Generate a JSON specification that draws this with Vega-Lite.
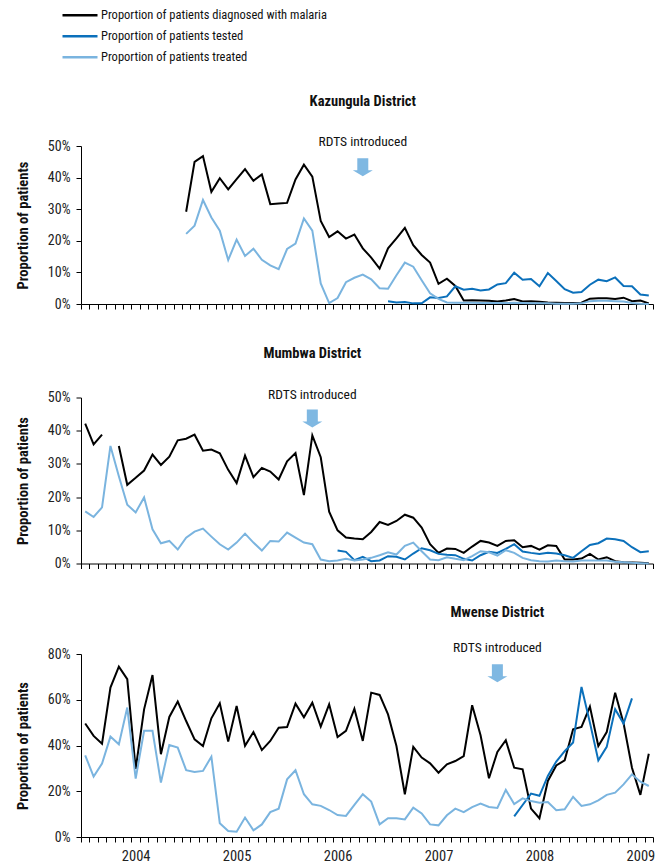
{
  "$schema": "https://vega.github.io/schema/vega-lite/v6.json",
  "background": "white",
  "padding": {"left": 15, "top": 5, "right": 5, "bottom": 0},
  "config": {
    "font": "Roboto Condensed, Noto Sans Condensed, DejaVu Sans Condensed, Roboto",
    "view": {"stroke": null},
    "axis": {"domainColor": "#000", "tickColor": "#000", "labelColor": "#222", "labelFontSize": 14, "grid": false, "titleFontSize": 14.5, "titleFontWeight": "bold", "titleColor": "#111", "tickSize": 5},
    "concat": {"spacing": 34.5}
  },
  "datasets": {
    "rates": [
      {"district": "Kazungula", "month": "2003-07"}, {"district": "Kazungula", "month": "2003-08"}, {"district": "Kazungula", "month": "2003-09"}, {"district": "Kazungula", "month": "2003-10"}, {"district": "Kazungula", "month": "2003-11"}, {"district": "Kazungula", "month": "2003-12"},
      {"district": "Kazungula", "month": "2004-01"}, {"district": "Kazungula", "month": "2004-02"}, {"district": "Kazungula", "month": "2004-03"}, {"district": "Kazungula", "month": "2004-04"}, {"district": "Kazungula", "month": "2004-05"}, {"district": "Kazungula", "month": "2004-06"},
      {"district": "Kazungula", "month": "2004-07", "diagnosed": 29.2, "treated": 22.2},
      {"district": "Kazungula", "month": "2004-08", "diagnosed": 45.0, "treated": 24.8},
      {"district": "Kazungula", "month": "2004-09", "diagnosed": 46.8, "treated": 32.9},
      {"district": "Kazungula", "month": "2004-10", "diagnosed": 35.5, "treated": 27.4},
      {"district": "Kazungula", "month": "2004-11", "diagnosed": 39.8, "treated": 23.2},
      {"district": "Kazungula", "month": "2004-12", "diagnosed": 36.3, "treated": 13.9},
      {"district": "Kazungula", "month": "2005-01", "diagnosed": 39.5, "treated": 20.4},
      {"district": "Kazungula", "month": "2005-02", "diagnosed": 42.7, "treated": 15.2},
      {"district": "Kazungula", "month": "2005-03", "diagnosed": 39.0, "treated": 17.5},
      {"district": "Kazungula", "month": "2005-04", "diagnosed": 41.0, "treated": 14.0},
      {"district": "Kazungula", "month": "2005-05", "diagnosed": 31.6, "treated": 12.2},
      {"district": "Kazungula", "month": "2005-06", "diagnosed": 31.8, "treated": 11.0},
      {"district": "Kazungula", "month": "2005-07", "diagnosed": 32.0, "treated": 17.4},
      {"district": "Kazungula", "month": "2005-08", "diagnosed": 39.4, "treated": 19.1},
      {"district": "Kazungula", "month": "2005-09", "diagnosed": 44.1, "treated": 27.1},
      {"district": "Kazungula", "month": "2005-10", "diagnosed": 40.3, "treated": 23.2},
      {"district": "Kazungula", "month": "2005-11", "diagnosed": 26.3, "treated": 6.5},
      {"district": "Kazungula", "month": "2005-12", "diagnosed": 21.2, "treated": 0.3},
      {"district": "Kazungula", "month": "2006-01", "diagnosed": 23.0, "treated": 1.9},
      {"district": "Kazungula", "month": "2006-02", "diagnosed": 20.7, "treated": 6.9},
      {"district": "Kazungula", "month": "2006-03", "diagnosed": 22.0, "treated": 8.3},
      {"district": "Kazungula", "month": "2006-04", "diagnosed": 17.6, "treated": 9.3},
      {"district": "Kazungula", "month": "2006-05", "diagnosed": 14.7, "treated": 7.8},
      {"district": "Kazungula", "month": "2006-06", "diagnosed": 11.2, "treated": 5.0},
      {"district": "Kazungula", "month": "2006-07", "diagnosed": 17.6, "tested": 0.9, "treated": 4.8},
      {"district": "Kazungula", "month": "2006-08", "diagnosed": 20.8, "tested": 0.5, "treated": 9.1},
      {"district": "Kazungula", "month": "2006-09", "diagnosed": 24.1, "tested": 0.6, "treated": 13.1},
      {"district": "Kazungula", "month": "2006-10", "diagnosed": 18.6, "tested": 0.2, "treated": 11.8},
      {"district": "Kazungula", "month": "2006-11", "diagnosed": 15.5, "tested": 0.2, "treated": 7.5},
      {"district": "Kazungula", "month": "2006-12", "diagnosed": 13.1, "tested": 2.1, "treated": 3.4},
      {"district": "Kazungula", "month": "2007-01", "diagnosed": 6.4, "tested": 1.9, "treated": 1.6},
      {"district": "Kazungula", "month": "2007-02", "diagnosed": 8.0, "tested": 2.4, "treated": 0.5},
      {"district": "Kazungula", "month": "2007-03", "diagnosed": 5.7, "tested": 5.6, "treated": 0.4},
      {"district": "Kazungula", "month": "2007-04", "diagnosed": 1.1, "tested": 4.5, "treated": 0.4},
      {"district": "Kazungula", "month": "2007-05", "diagnosed": 1.2, "tested": 4.8, "treated": 0.4},
      {"district": "Kazungula", "month": "2007-06", "diagnosed": 1.1, "tested": 4.3, "treated": 0.3},
      {"district": "Kazungula", "month": "2007-07", "diagnosed": 1.0, "tested": 4.6, "treated": 0.3},
      {"district": "Kazungula", "month": "2007-08", "diagnosed": 0.8, "tested": 6.2, "treated": 0.3},
      {"district": "Kazungula", "month": "2007-09", "diagnosed": 1.1, "tested": 6.6, "treated": 0.3},
      {"district": "Kazungula", "month": "2007-10", "diagnosed": 1.6, "tested": 9.9, "treated": 0.4},
      {"district": "Kazungula", "month": "2007-11", "diagnosed": 0.8, "tested": 7.7, "treated": 0.3},
      {"district": "Kazungula", "month": "2007-12", "diagnosed": 0.9, "tested": 7.9, "treated": 0.2},
      {"district": "Kazungula", "month": "2008-01", "diagnosed": 0.7, "tested": 5.6, "treated": 0.2},
      {"district": "Kazungula", "month": "2008-02", "diagnosed": 0.5, "tested": 9.8, "treated": 0.2},
      {"district": "Kazungula", "month": "2008-03", "diagnosed": 0.4, "tested": 7.3, "treated": 0.1},
      {"district": "Kazungula", "month": "2008-04", "diagnosed": 0.3, "tested": 4.7, "treated": 0.1},
      {"district": "Kazungula", "month": "2008-05", "diagnosed": 0.3, "tested": 3.6, "treated": 0.1},
      {"district": "Kazungula", "month": "2008-06", "diagnosed": 0.4, "tested": 3.8, "treated": 0.2},
      {"district": "Kazungula", "month": "2008-07", "diagnosed": 1.7, "tested": 6.1, "treated": 0.9},
      {"district": "Kazungula", "month": "2008-08", "diagnosed": 1.8, "tested": 7.7, "treated": 1.0},
      {"district": "Kazungula", "month": "2008-09", "diagnosed": 1.8, "tested": 7.2, "treated": 1.0},
      {"district": "Kazungula", "month": "2008-10", "diagnosed": 1.6, "tested": 8.4, "treated": 0.9},
      {"district": "Kazungula", "month": "2008-11", "diagnosed": 2.0, "tested": 5.7, "treated": 0.8},
      {"district": "Kazungula", "month": "2008-12", "diagnosed": 0.9, "tested": 5.6, "treated": 0.3},
      {"district": "Kazungula", "month": "2009-01", "diagnosed": 1.1, "tested": 3.0, "treated": 0.1},
      {"district": "Kazungula", "month": "2009-02", "diagnosed": 0.2, "tested": 2.7, "treated": 0.0},

      {"district": "Mumbwa", "month": "2003-07", "diagnosed": 42.1, "treated": 15.7},
      {"district": "Mumbwa", "month": "2003-08", "diagnosed": 35.9, "treated": 14.0},
      {"district": "Mumbwa", "month": "2003-09", "diagnosed": 38.8, "treated": 16.9},
      {"district": "Mumbwa", "month": "2003-10", "treated": 35.4},
      {"district": "Mumbwa", "month": "2003-11", "diagnosed": 35.4, "treated": 26.3},
      {"district": "Mumbwa", "month": "2003-12", "diagnosed": 23.7, "treated": 17.7},
      {"district": "Mumbwa", "month": "2004-01", "diagnosed": 25.8, "treated": 15.4},
      {"district": "Mumbwa", "month": "2004-02", "diagnosed": 28.0, "treated": 19.9},
      {"district": "Mumbwa", "month": "2004-03", "diagnosed": 32.8, "treated": 10.3},
      {"district": "Mumbwa", "month": "2004-04", "diagnosed": 29.7, "treated": 6.1},
      {"district": "Mumbwa", "month": "2004-05", "diagnosed": 32.2, "treated": 6.8},
      {"district": "Mumbwa", "month": "2004-06", "diagnosed": 37.1, "treated": 4.2},
      {"district": "Mumbwa", "month": "2004-07", "diagnosed": 37.6, "treated": 7.8},
      {"district": "Mumbwa", "month": "2004-08", "diagnosed": 38.8, "treated": 9.6},
      {"district": "Mumbwa", "month": "2004-09", "diagnosed": 34.0, "treated": 10.5},
      {"district": "Mumbwa", "month": "2004-10", "diagnosed": 34.3, "treated": 8.1},
      {"district": "Mumbwa", "month": "2004-11", "diagnosed": 33.2, "treated": 5.8},
      {"district": "Mumbwa", "month": "2004-12", "diagnosed": 28.2, "treated": 4.2},
      {"district": "Mumbwa", "month": "2005-01", "diagnosed": 24.2, "treated": 6.3},
      {"district": "Mumbwa", "month": "2005-02", "diagnosed": 32.5, "treated": 9.0},
      {"district": "Mumbwa", "month": "2005-03", "diagnosed": 26.0, "treated": 6.3},
      {"district": "Mumbwa", "month": "2005-04", "diagnosed": 28.8, "treated": 3.9},
      {"district": "Mumbwa", "month": "2005-05", "diagnosed": 27.7, "treated": 6.8},
      {"district": "Mumbwa", "month": "2005-06", "diagnosed": 25.3, "treated": 6.6},
      {"district": "Mumbwa", "month": "2005-07", "diagnosed": 30.8, "treated": 9.3},
      {"district": "Mumbwa", "month": "2005-08", "diagnosed": 33.3, "treated": 7.8},
      {"district": "Mumbwa", "month": "2005-09", "diagnosed": 20.6, "treated": 6.3},
      {"district": "Mumbwa", "month": "2005-10", "diagnosed": 38.6, "treated": 5.8},
      {"district": "Mumbwa", "month": "2005-11", "diagnosed": 32.0, "treated": 1.2},
      {"district": "Mumbwa", "month": "2005-12", "diagnosed": 15.6, "treated": 0.7},
      {"district": "Mumbwa", "month": "2006-01", "diagnosed": 10.0, "tested": 3.9, "treated": 0.9},
      {"district": "Mumbwa", "month": "2006-02", "diagnosed": 7.8, "tested": 3.5, "treated": 1.4},
      {"district": "Mumbwa", "month": "2006-03", "diagnosed": 7.5, "tested": 1.0, "treated": 0.9},
      {"district": "Mumbwa", "month": "2006-04", "diagnosed": 7.3, "tested": 2.0, "treated": 1.2},
      {"district": "Mumbwa", "month": "2006-05", "diagnosed": 9.5, "tested": 0.7, "treated": 1.7},
      {"district": "Mumbwa", "month": "2006-06", "diagnosed": 12.5, "tested": 0.9, "treated": 2.5},
      {"district": "Mumbwa", "month": "2006-07", "diagnosed": 11.6, "tested": 2.2, "treated": 3.4},
      {"district": "Mumbwa", "month": "2006-08", "diagnosed": 12.8, "tested": 2.0, "treated": 2.7},
      {"district": "Mumbwa", "month": "2006-09", "diagnosed": 14.7, "tested": 1.2, "treated": 5.3},
      {"district": "Mumbwa", "month": "2006-10", "diagnosed": 13.8, "tested": 3.0, "treated": 6.3},
      {"district": "Mumbwa", "month": "2006-11", "diagnosed": 10.8, "tested": 4.6, "treated": 3.7},
      {"district": "Mumbwa", "month": "2006-12", "diagnosed": 5.8, "tested": 4.0, "treated": 1.2},
      {"district": "Mumbwa", "month": "2007-01", "diagnosed": 3.2, "tested": 2.9, "treated": 1.0},
      {"district": "Mumbwa", "month": "2007-02", "diagnosed": 4.5, "tested": 2.6, "treated": 1.9},
      {"district": "Mumbwa", "month": "2007-03", "diagnosed": 4.4, "tested": 2.5, "treated": 1.4},
      {"district": "Mumbwa", "month": "2007-04", "diagnosed": 3.2, "tested": 1.4, "treated": 1.0},
      {"district": "Mumbwa", "month": "2007-05", "diagnosed": 5.1, "tested": 0.9, "treated": 2.2},
      {"district": "Mumbwa", "month": "2007-06", "diagnosed": 6.8, "tested": 2.5, "treated": 3.7},
      {"district": "Mumbwa", "month": "2007-07", "diagnosed": 6.3, "tested": 3.5, "treated": 3.4},
      {"district": "Mumbwa", "month": "2007-08", "diagnosed": 5.3, "tested": 3.2, "treated": 2.4},
      {"district": "Mumbwa", "month": "2007-09", "diagnosed": 6.8, "tested": 4.4, "treated": 4.0},
      {"district": "Mumbwa", "month": "2007-10", "diagnosed": 7.0, "tested": 5.8, "treated": 3.2},
      {"district": "Mumbwa", "month": "2007-11", "diagnosed": 4.9, "tested": 3.6, "treated": 1.7},
      {"district": "Mumbwa", "month": "2007-12", "diagnosed": 5.3, "tested": 3.2, "treated": 1.0},
      {"district": "Mumbwa", "month": "2008-01", "diagnosed": 4.2, "tested": 2.9, "treated": 0.7},
      {"district": "Mumbwa", "month": "2008-02", "diagnosed": 5.5, "tested": 3.2, "treated": 0.6},
      {"district": "Mumbwa", "month": "2008-03", "diagnosed": 5.3, "tested": 3.0, "treated": 0.9},
      {"district": "Mumbwa", "month": "2008-04", "diagnosed": 1.2, "tested": 2.5, "treated": 0.7},
      {"district": "Mumbwa", "month": "2008-05", "diagnosed": 1.2, "tested": 1.7, "treated": 0.6},
      {"district": "Mumbwa", "month": "2008-06", "diagnosed": 1.5, "tested": 3.7, "treated": 0.9},
      {"district": "Mumbwa", "month": "2008-07", "diagnosed": 2.9, "tested": 5.6, "treated": 0.9},
      {"district": "Mumbwa", "month": "2008-08", "diagnosed": 1.2, "tested": 6.1, "treated": 0.9},
      {"district": "Mumbwa", "month": "2008-09", "diagnosed": 1.9, "tested": 7.5, "treated": 0.9},
      {"district": "Mumbwa", "month": "2008-10", "diagnosed": 0.7, "tested": 7.3, "treated": 0.5},
      {"district": "Mumbwa", "month": "2008-11", "diagnosed": 0.4, "tested": 6.8, "treated": 0.4},
      {"district": "Mumbwa", "month": "2008-12", "diagnosed": 0.3, "tested": 4.9, "treated": 0.2},
      {"district": "Mumbwa", "month": "2009-01", "diagnosed": 0.2, "tested": 3.4, "treated": 0.1},
      {"district": "Mumbwa", "month": "2009-02", "diagnosed": 0.1, "tested": 3.7, "treated": 0.0},

      {"district": "Mwense", "month": "2003-07", "diagnosed": 49.6, "treated": 35.7},
      {"district": "Mwense", "month": "2003-08", "diagnosed": 44.2, "treated": 26.4},
      {"district": "Mwense", "month": "2003-09", "diagnosed": 40.8, "treated": 32.1},
      {"district": "Mwense", "month": "2003-10", "diagnosed": 65.3, "treated": 43.9},
      {"district": "Mwense", "month": "2003-11", "diagnosed": 74.5, "treated": 40.5},
      {"district": "Mwense", "month": "2003-12", "diagnosed": 69.0, "treated": 56.6},
      {"district": "Mwense", "month": "2004-01", "diagnosed": 29.8, "treated": 25.5},
      {"district": "Mwense", "month": "2004-02", "diagnosed": 55.8, "treated": 46.4},
      {"district": "Mwense", "month": "2004-03", "diagnosed": 70.8, "treated": 46.4},
      {"district": "Mwense", "month": "2004-04", "diagnosed": 36.2, "treated": 23.8},
      {"district": "Mwense", "month": "2004-05", "diagnosed": 52.5, "treated": 40.2},
      {"district": "Mwense", "month": "2004-06", "diagnosed": 59.2, "treated": 39.1},
      {"district": "Mwense", "month": "2004-07", "diagnosed": 50.7, "treated": 29.2},
      {"district": "Mwense", "month": "2004-08", "diagnosed": 42.7, "treated": 28.4},
      {"district": "Mwense", "month": "2004-09", "diagnosed": 39.8, "treated": 28.9},
      {"district": "Mwense", "month": "2004-10", "diagnosed": 51.9, "treated": 35.1},
      {"district": "Mwense", "month": "2004-11", "diagnosed": 58.5, "treated": 6.0},
      {"district": "Mwense", "month": "2004-12", "diagnosed": 41.7, "treated": 2.6},
      {"district": "Mwense", "month": "2005-01", "diagnosed": 57.3, "treated": 2.3},
      {"district": "Mwense", "month": "2005-02", "diagnosed": 39.9, "treated": 8.5},
      {"district": "Mwense", "month": "2005-03", "diagnosed": 45.9, "treated": 2.9},
      {"district": "Mwense", "month": "2005-04", "diagnosed": 38.0, "treated": 5.5},
      {"district": "Mwense", "month": "2005-05", "diagnosed": 42.0, "treated": 10.9},
      {"district": "Mwense", "month": "2005-06", "diagnosed": 47.8, "treated": 12.4},
      {"district": "Mwense", "month": "2005-07", "diagnosed": 48.1, "treated": 25.2},
      {"district": "Mwense", "month": "2005-08", "diagnosed": 58.3, "treated": 29.2},
      {"district": "Mwense", "month": "2005-09", "diagnosed": 52.3, "treated": 18.7},
      {"district": "Mwense", "month": "2005-10", "diagnosed": 58.7, "treated": 14.3},
      {"district": "Mwense", "month": "2005-11", "diagnosed": 48.3, "treated": 13.6},
      {"district": "Mwense", "month": "2005-12", "diagnosed": 58.0, "treated": 11.8},
      {"district": "Mwense", "month": "2006-01", "diagnosed": 43.7, "treated": 9.6},
      {"district": "Mwense", "month": "2006-02", "diagnosed": 46.4, "treated": 9.2},
      {"district": "Mwense", "month": "2006-03", "diagnosed": 56.1, "treated": 14.0},
      {"district": "Mwense", "month": "2006-04", "diagnosed": 42.0, "treated": 18.7},
      {"district": "Mwense", "month": "2006-05", "diagnosed": 63.1, "treated": 15.5},
      {"district": "Mwense", "month": "2006-06", "diagnosed": 62.1, "treated": 5.5},
      {"district": "Mwense", "month": "2006-07", "diagnosed": 53.6, "treated": 8.2},
      {"district": "Mwense", "month": "2006-08", "diagnosed": 39.8, "treated": 8.2},
      {"district": "Mwense", "month": "2006-09", "diagnosed": 18.7, "treated": 7.7},
      {"district": "Mwense", "month": "2006-10", "diagnosed": 39.4, "treated": 12.8},
      {"district": "Mwense", "month": "2006-11", "diagnosed": 34.7, "treated": 10.3},
      {"district": "Mwense", "month": "2006-12", "diagnosed": 32.2, "treated": 5.5},
      {"district": "Mwense", "month": "2007-01", "diagnosed": 28.1, "treated": 5.1},
      {"district": "Mwense", "month": "2007-02", "diagnosed": 31.8, "treated": 9.5},
      {"district": "Mwense", "month": "2007-03", "diagnosed": 33.2, "treated": 12.4},
      {"district": "Mwense", "month": "2007-04", "diagnosed": 35.4, "treated": 10.9},
      {"district": "Mwense", "month": "2007-05", "diagnosed": 57.6, "treated": 13.1},
      {"district": "Mwense", "month": "2007-06", "diagnosed": 44.5, "treated": 14.6},
      {"district": "Mwense", "month": "2007-07", "diagnosed": 25.7, "treated": 13.1},
      {"district": "Mwense", "month": "2007-08", "diagnosed": 37.2, "treated": 12.7},
      {"district": "Mwense", "month": "2007-09", "diagnosed": 42.3, "treated": 20.6},
      {"district": "Mwense", "month": "2007-10", "diagnosed": 30.3, "tested": 9.0, "treated": 14.4},
      {"district": "Mwense", "month": "2007-11", "diagnosed": 29.6, "tested": 14.0, "treated": 16.9},
      {"district": "Mwense", "month": "2007-12", "diagnosed": 12.4, "tested": 19.0, "treated": 15.7},
      {"district": "Mwense", "month": "2008-01", "diagnosed": 8.2, "tested": 18.0, "treated": 15.0},
      {"district": "Mwense", "month": "2008-02", "diagnosed": 24.5, "tested": 26.7, "treated": 15.3},
      {"district": "Mwense", "month": "2008-03", "diagnosed": 31.3, "tested": 33.0, "treated": 11.7},
      {"district": "Mwense", "month": "2008-04", "diagnosed": 33.5, "tested": 37.5, "treated": 12.1},
      {"district": "Mwense", "month": "2008-05", "diagnosed": 47.1, "tested": 41.3, "treated": 17.6},
      {"district": "Mwense", "month": "2008-06", "diagnosed": 48.1, "tested": 65.6, "treated": 13.6},
      {"district": "Mwense", "month": "2008-07", "diagnosed": 57.0, "tested": 50.0, "treated": 14.3},
      {"district": "Mwense", "month": "2008-08", "diagnosed": 39.8, "tested": 33.5, "treated": 16.0},
      {"district": "Mwense", "month": "2008-09", "diagnosed": 45.9, "tested": 39.4, "treated": 18.4},
      {"district": "Mwense", "month": "2008-10", "diagnosed": 63.1, "tested": 55.9, "treated": 19.4},
      {"district": "Mwense", "month": "2008-11", "diagnosed": 49.7, "tested": 49.6, "treated": 23.0},
      {"district": "Mwense", "month": "2008-12", "diagnosed": 30.3, "tested": 60.6, "treated": 27.4},
      {"district": "Mwense", "month": "2009-01", "diagnosed": 18.4, "treated": 24.2},
      {"district": "Mwense", "month": "2009-02", "diagnosed": 36.4, "treated": 22.3}
    ]
  },
  "vconcat": [
    {
      "width": 572, "height": 158,
      "layer": [
        {
          "data": {"name": "rates"},
          "transform": [{"filter": "datum.district == 'Kazungula'"}, {"fold": ["diagnosed", "tested", "treated"], "as": ["series", "value"]}],
          "mark": {"type": "line", "strokeWidth": 2, "invalid": "break-paths-show-domains"},
          "encoding": {
            "x": {"field": "month", "type": "ordinal", "scale": {"type": "band", "paddingInner": 0, "paddingOuter": 0}, "axis": {"title": null, "labels": false, "tickBand": "extent"}},
            "y": {"field": "value", "type": "quantitative", "scale": {"domain": [0, 50], "nice": false}, "axis": {"title": "Proportion of patients", "values": [0, 10, 20, 30, 40, 50], "tickCount": 12, "labelOverlap": false, "labelExpr": "datum.value + '%'", "labelPadding": 6, "titlePadding": 17}},
            "color": {"field": "series", "type": "nominal", "scale": {"domain": ["diagnosed", "tested", "treated"], "range": ["#000000", "#0b70bb", "#7ab4df"]},
              "legend": {"title": null, "orient": "none", "legendX": -20, "legendY": -141, "symbolType": "stroke", "symbolSize": 1225, "symbolStrokeWidth": 2.5, "labelOffset": 2, "rowPadding": 0, "clipHeight": 20.5, "labelFontSize": 12.5, "labelColor": "#111", "labelLimit": 500,
                "labelExpr": "datum.label == 'diagnosed' ? 'Proportion of patients diagnosed with malaria' : datum.label == 'tested' ? 'Proportion of patients tested' : 'Proportion of patients treated'"}}
          }
        },
        {
          "data": {"values": [{"month": "2006-04"}]},
          "mark": {"type": "point", "shape": "M-0.55,-0.9 L0.55,-0.9 L0.55,0.3 L1,0.3 L0,0.9 L-1,0.3 L-0.55,0.3 Z", "size": 400, "filled": true, "color": "#7fb8e2", "opacity": 1},
          "encoding": {"x": {"field": "month", "type": "ordinal"}, "y": {"datum": 43.3}}
        },
        {
          "data": {"values": [{"month": "2006-04", "label": "RDTS introduced"}]},
          "mark": {"type": "text", "fontSize": 13.5, "color": "#111", "baseline": "middle"},
          "encoding": {"x": {"field": "month", "type": "ordinal"}, "y": {"datum": 51.3}, "text": {"field": "label"}}
        },
        {
          "data": {"values": [{"month": "2006-04", "label": "Kazungula District"}]},
          "mark": {"type": "text", "fontSize": 14.5, "fontWeight": "bold", "color": "#111", "baseline": "middle"},
          "encoding": {"x": {"field": "month", "type": "ordinal"}, "y": {"datum": 64}, "text": {"field": "label"}}
        }
      ]
    },
    {
      "width": 572, "height": 166,
      "layer": [
        {
          "data": {"name": "rates"},
          "transform": [{"filter": "datum.district == 'Mumbwa'"}, {"fold": ["diagnosed", "tested", "treated"], "as": ["series", "value"]}],
          "mark": {"type": "line", "strokeWidth": 2, "invalid": "break-paths-show-domains"},
          "encoding": {
            "x": {"field": "month", "type": "ordinal", "scale": {"type": "band", "paddingInner": 0, "paddingOuter": 0}, "axis": {"title": null, "labels": false, "tickBand": "extent"}},
            "y": {"field": "value", "type": "quantitative", "scale": {"domain": [0, 50], "nice": false}, "axis": {"title": "Proportion of patients", "values": [0, 10, 20, 30, 40, 50], "tickCount": 12, "labelOverlap": false, "labelExpr": "datum.value + '%'", "labelPadding": 6, "titlePadding": 17}},
            "color": {"field": "series", "type": "nominal"}
          }
        },
        {
          "data": {"values": [{"month": "2005-10"}]},
          "mark": {"type": "point", "shape": "M-0.55,-0.9 L0.55,-0.9 L0.55,0.3 L1,0.3 L0,0.9 L-1,0.3 L-0.55,0.3 Z", "size": 400, "filled": true, "color": "#7fb8e2", "opacity": 1},
          "encoding": {"x": {"field": "month", "type": "ordinal"}, "y": {"datum": 43.7}}
        },
        {
          "data": {"values": [{"month": "2005-10", "label": "RDTS introduced"}]},
          "mark": {"type": "text", "fontSize": 13.5, "color": "#111", "baseline": "middle"},
          "encoding": {"x": {"field": "month", "type": "ordinal"}, "y": {"datum": 50.9}, "text": {"field": "label"}}
        },
        {
          "data": {"values": [{"month": "2005-10", "label": "Mumbwa District"}]},
          "mark": {"type": "text", "fontSize": 14.5, "fontWeight": "bold", "color": "#111", "baseline": "middle"},
          "encoding": {"x": {"field": "month", "type": "ordinal"}, "y": {"datum": 63.0}, "text": {"field": "label"}}
        }
      ]
    },
    {
      "width": 572, "height": 183,
      "layer": [
        {
          "data": {"name": "rates"},
          "transform": [{"filter": "datum.district == 'Mwense'"}, {"fold": ["diagnosed", "tested", "treated"], "as": ["series", "value"]}],
          "mark": {"type": "line", "strokeWidth": 2, "invalid": "break-paths-show-domains"},
          "encoding": {
            "x": {"field": "month", "type": "ordinal", "scale": {"type": "band", "paddingInner": 0, "paddingOuter": 0}, "axis": {"title": null, "tickBand": "extent", "labelAngle": 0, "labelOverlap": false, "labelPadding": 7, "labelFontSize": 14.5, "labelExpr": "substring(datum.value, 5, 7) == '01' ? substring(datum.value, 0, 4) : ''"}},
            "y": {"field": "value", "type": "quantitative", "scale": {"domain": [0, 80], "nice": false}, "axis": {"title": "Proportion of patients", "values": [0, 20, 40, 60, 80], "tickCount": 12, "labelOverlap": false, "labelExpr": "datum.value + '%'", "labelPadding": 6, "titlePadding": 17}},
            "color": {"field": "series", "type": "nominal"}
          }
        },
        {
          "data": {"values": [{"month": "2007-08"}]},
          "mark": {"type": "point", "shape": "M-0.55,-0.9 L0.55,-0.9 L0.55,0.3 L1,0.3 L0,0.9 L-1,0.3 L-0.55,0.3 Z", "size": 400, "filled": true, "color": "#7fb8e2", "opacity": 1},
          "encoding": {"x": {"field": "month", "type": "ordinal"}, "y": {"datum": 71.6}}
        },
        {
          "data": {"values": [{"month": "2007-08", "label": "RDTS introduced"}]},
          "mark": {"type": "text", "fontSize": 13.5, "color": "#111", "baseline": "middle"},
          "encoding": {"x": {"field": "month", "type": "ordinal"}, "y": {"datum": 82.5}, "text": {"field": "label"}}
        },
        {
          "data": {"values": [{"month": "2007-08", "label": "Mwense District"}]},
          "mark": {"type": "text", "fontSize": 14.5, "fontWeight": "bold", "color": "#111", "baseline": "middle"},
          "encoding": {"x": {"field": "month", "type": "ordinal"}, "y": {"datum": 97.8}, "text": {"field": "label"}}
        }
      ]
    }
  ]
}
